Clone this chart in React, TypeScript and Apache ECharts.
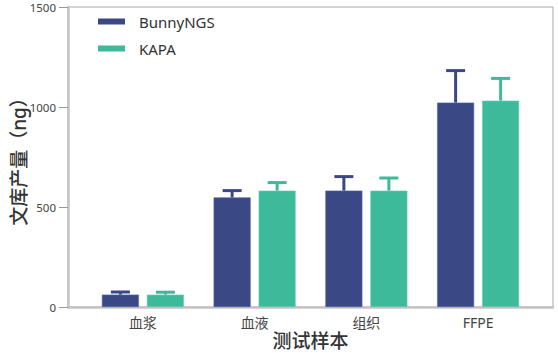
import React, { useEffect, useRef } from "react";
import * as echarts from "echarts";

const categories = ["血浆", "血液", "组织", "FFPE"];
const seriesNames = ["BunnyNGS", "KAPA"];
const bunnyValues = [62, 548, 582, 1022];
const bunnyErrTop = [75, 582, 652, 1182];
const kapaValues = [62, 582, 582, 1032];
const kapaErrTop = [74, 622, 645, 1143];
const yTicks = [0, 500, 1000, 1500];

const colors = ["#3a4886", "#3dba9a"];
const FONT = "'Noto Sans', 'Noto Sans CJK SC', sans-serif";

const BAR_W = 37;
const BAR_GAP = 8;

export default function App() {
  const ref = useRef<HTMLDivElement>(null);
  useEffect(() => {
    if (!ref.current) return;
    const chart = echarts.init(ref.current, undefined, { renderer: "svg" });
    const gridTop = 7;
    const gridH = 300;
    const errSeries = (name: string, vals: number[], tops: number[], idx: number) => ({
      type: "custom",
      name: name + "-err",
      xAxisIndex: 1,
      yAxisIndex: 1,
      z: 3,
      data: vals.map((v, i) => [i, v, tops[i]]),
      renderItem: (params: any, api: any) => {
        const base = api.coord([api.value(0), api.value(1)]);
        const top = api.coord([api.value(0), api.value(2)]);
        const off = (idx === 0 ? -1 : 1) * (BAR_W + BAR_GAP) / 2;
        const x = base[0] + off;
        const style = { stroke: colors[idx], lineWidth: 3 };
        return {
          type: "group",
          children: [
            { type: "line", shape: { x1: x, y1: base[1], x2: x, y2: top[1] }, style },
            { type: "line", shape: { x1: x - 9.5, y1: top[1], x2: x + 9.5, y2: top[1] }, style },
          ],
        };
      },
    });
    chart.setOption({
      animation: false,
      textStyle: { fontFamily: FONT },
      color: colors,
      legend: {
        data: seriesNames,
        orient: "vertical",
        left: 93,
        top: 9,
        itemWidth: 27,
        itemHeight: 6,
        itemGap: 12,
        icon: "rect",
        itemStyle: { borderWidth: 0 },
        textStyle: { fontSize: 15, color: "#333", fontFamily: FONT, padding: [0, 0, 0, 9] },
      },
      grid: [
        {
          left: 68, top: gridTop, width: 485, height: gridH, show: true,
          borderColor: "#a8a8a8", borderWidth: 1, outerBoundsMode: "none", containLabel: false,
        },
        { left: 87, top: gridTop, width: 447, height: gridH, outerBoundsMode: "none", containLabel: false },
      ],
      xAxis: [
        {
          type: "category",
          gridIndex: 0,
          data: categories,
          axisLine: { lineStyle: { color: "#c4c4c4", width: 2.5 } },
          axisTick: { show: false },
          axisLabel: { show: false },
        },
        {
          type: "category",
          gridIndex: 1,
          data: categories,
          axisLine: { show: false },
          axisTick: { show: false },
          axisLabel: { fontSize: 14, color: "#444", margin: 8, fontFamily: FONT },
          name: "测试样本",
          nameLocation: "middle",
          nameGap: 24,
          nameMoveOverlap: false,
          nameTextStyle: { fontSize: 19, color: "#333", fontWeight: 500, fontFamily: FONT },
        },
      ],
      yAxis: [
        {
          type: "value",
          gridIndex: 0,
          min: yTicks[0],
          max: yTicks[yTicks.length - 1],
          interval: yTicks[1] - yTicks[0],
          splitLine: { show: false },
          axisLine: { show: true, lineStyle: { color: "#c4c4c4", width: 2.5 } },
          axisTick: { show: true, length: 9, lineStyle: { color: "#999", width: 1 } },
          axisLabel: {
            fontSize: 11.5, color: "#444", margin: 12, fontFamily: FONT,
            formatter: (v: number) => String(v),
          },
          name: "文库产量（ng）",
          nameLocation: "middle",
          nameRotate: 90,
          nameGap: 40,
          nameMoveOverlap: false,
          nameTextStyle: { fontSize: 19, color: "#333", fontWeight: 500, fontFamily: FONT },
        },
        {
          type: "value",
          gridIndex: 1,
          min: yTicks[0],
          max: yTicks[yTicks.length - 1],
          show: false,
          splitLine: { show: false },
        },
      ],
      series: [
        {
          type: "bar",
          name: seriesNames[0],
          xAxisIndex: 1,
          yAxisIndex: 1,
          data: bunnyValues,
          barWidth: BAR_W,
          barGap: (BAR_GAP / BAR_W) * 100 + "%",
          itemStyle: { color: colors[0], borderColor: "#5563a0", borderWidth: 0.6 },
        },
        {
          type: "bar",
          name: seriesNames[1],
          xAxisIndex: 1,
          yAxisIndex: 1,
          data: kapaValues,
          barWidth: BAR_W,
          itemStyle: { color: colors[1], borderColor: "#6ccdb4", borderWidth: 0.6 },
        },
        errSeries(seriesNames[0], bunnyValues, bunnyErrTop, 0),
        errSeries(seriesNames[1], kapaValues, kapaErrTop, 1),
      ],
    });
    return () => chart.dispose();
  }, []);
  return (
    <div
      ref={ref}
      style={{ position: "fixed", left: 0, top: 0, width: 558, height: 353, background: "#fff" }}
    />
  );
}
